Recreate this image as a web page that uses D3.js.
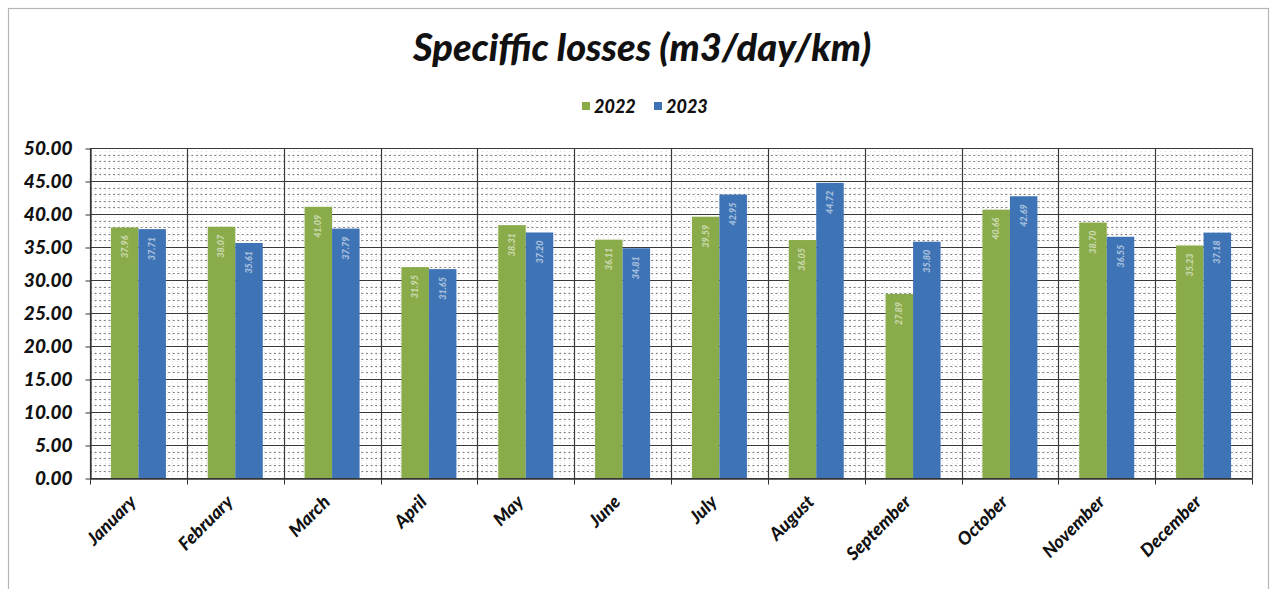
<!DOCTYPE html>
<html>
<head>
<meta charset="utf-8">
<script src="https://cdn.jsdelivr.net/npm/d3@7"></script>
<style>
  html, body { margin: 0; padding: 0; background: #fff; }
  svg { display: block; }
  text { font-family: Lato, "Open Sans", sans-serif; font-style: italic; font-weight: 900; }
</style>
</head>
<body>
<svg id="chart" width="1278" height="589"></svg>
<script>
// Monthly specific losses, m3/day/km
const months = ["January", "February", "March", "April", "May", "June",
                "July", "August", "September", "October", "November", "December"];
const seriesNames = ["2022", "2023"];
const values2022 = [37.96, 38.07, 41.09, 31.95, 38.31, 36.11, 39.59, 36.05, 27.89, 40.66, 38.70, 35.23];
const values2023 = [37.71, 35.61, 37.79, 31.65, 37.20, 34.81, 42.95, 44.72, 35.80, 42.69, 36.55, 37.18];
const yTicks = [0, 5, 10, 15, 20, 25, 30, 35, 40, 45, 50];
const colors = { "2022": "#8aab49", "2023": "#3e74b5" };

const svg = d3.select("#chart");
const m = { left: 90, right: 1252, top: 148, bottom: 478 };

// outer frame
svg.append("rect").attr("x", 8.5).attr("y", 8.5).attr("width", 1260).attr("height", 590)
  .attr("fill", "none").attr("stroke", "#b5b5b5").attr("stroke-width", 1.2);

const x = d3.scaleBand().domain(months).range([m.left, m.right]).paddingInner(0).paddingOuter(0);
const inner = d3.scaleBand().domain(seriesNames).range([0, x.bandwidth()]).paddingInner(0).paddingOuter(0.76);
const y = d3.scaleLinear().domain([0, 50]).range([m.bottom, m.top]);

const grid = svg.append("g");

// fine dotted grid inside the plot area
const minorY = d3.range(0, 50.01, 1).filter(v => v % 5 !== 0);
grid.selectAll("line.minh").data(minorY).join("line")
  .attr("x1", m.left).attr("x2", m.right)
  .attr("y1", d => Math.round(y(d)) + 0.5).attr("y2", d => Math.round(y(d)) + 0.5)
  .attr("stroke", "#5a5a5a").attr("stroke-width", 1.1)
  .attr("stroke-dasharray", "2,2.6").attr("opacity", 0.75);

const step = x.bandwidth() / 20;
const minorX = d3.range(0, 12 * 20).filter(i => i % 20 !== 0).map(i => m.left + i * step);
grid.selectAll("line.minv").data(minorX).join("line")
  .attr("x1", d => Math.round(d) + 0.5).attr("x2", d => Math.round(d) + 0.5)
  .attr("y1", m.top).attr("y2", m.bottom)
  .attr("stroke", "#9a9a9a").attr("stroke-width", 0.6)
  .attr("stroke-dasharray", "1,2").attr("opacity", 0.5);

// major grid
grid.selectAll("line.majh").data(yTicks).join("line")
  .attr("x1", m.left).attr("x2", m.right)
  .attr("y1", d => Math.round(y(d)) + 0.5).attr("y2", d => Math.round(y(d)) + 0.5)
  .attr("stroke", "#3a3a3a").attr("stroke-width", 1.2);

const boundaries = months.map(d => x(d)).concat([m.right]);
grid.selectAll("line.majv").data(boundaries).join("line")
  .attr("x1", d => Math.round(d) + 0.5).attr("x2", d => Math.round(d) + 0.5)
  .attr("y1", m.top).attr("y2", m.bottom)
  .attr("stroke", "#3a3a3a").attr("stroke-width", 1.2);

// bars
const rows = months.map((mo, i) => ({ month: mo, vals: [
  { s: "2022", v: values2022[i] }, { s: "2023", v: values2023[i] } ] }));

const groups = svg.append("g").selectAll("g").data(rows).join("g")
  .attr("transform", d => `translate(${x(d.month)},0)`);

groups.selectAll("rect").data(d => d.vals).join("rect")
  .attr("x", d => inner(d.s))
  .attr("width", inner.bandwidth())
  .attr("y", d => y(d.v))
  .attr("height", d => y(0) - y(d.v))
  .attr("fill", d => colors[d.s]);

// value labels inside the bars
groups.selectAll("text").data(d => d.vals).join("text")
  .attr("transform", d => `translate(${inner(d.s) + inner.bandwidth() / 2 + 3},${y(d.v) + 8}) rotate(-90)`)
  .attr("text-anchor", "end")
  .attr("font-size", 9)
  .attr("font-weight", "normal")
  .attr("fill", "#ffffff")
  .attr("opacity", 0.55)
  .text(d => d.v.toFixed(2));

// y axis
const yAxis = d3.axisLeft(y).tickValues(yTicks).tickFormat(d3.format(".2f")).tickSize(5).tickSizeOuter(0);
const gy = svg.append("g").attr("transform", `translate(${m.left + 0.5},0.5)`).call(yAxis);
gy.select(".domain").attr("stroke", "#333").attr("stroke-width", 1.3);
gy.selectAll(".tick line").attr("stroke", "#333");
gy.selectAll(".tick text").attr("x", -18).attr("font-size", 19).attr("fill", "#111")
  .style("font-family", "Lato, sans-serif");

// x axis
const xAxis = d3.axisBottom(x).tickSize(0).tickSizeOuter(0).tickFormat("");
const gx = svg.append("g").attr("transform", `translate(0,${m.bottom + 0.5})`).call(xAxis);
gx.select(".domain").attr("stroke", "#333").attr("stroke-width", 1.3);
gx.append("g").selectAll("line").data(boundaries).join("line")
  .attr("x1", d => Math.round(d) + 0.5).attr("x2", d => Math.round(d) + 0.5)
  .attr("y1", 0).attr("y2", 6).attr("stroke", "#333");

svg.append("g").selectAll("text").data(months).join("text")
  .attr("transform", d => `translate(${x(d) + x.bandwidth() / 2 - 1},${m.bottom + 25}) rotate(-45)`)
  .attr("text-anchor", "end")
  .attr("font-size", 18)
  .attr("fill", "#111")
  .text(d => d);

// title
svg.append("text").attr("x", 642).attr("y", 61).attr("text-anchor", "middle")
  .attr("font-size", 38).attr("fill", "#111")
  .text("Speciffic losses (m3/day/km)");

// legend
const legend = svg.append("g").attr("transform", "translate(582,102)");
seriesNames.forEach((s, i) => {
  const g = legend.append("g").attr("transform", `translate(${i * 72},0)`);
  g.append("rect").attr("width", 8).attr("height", 8).attr("y", 0).attr("fill", colors[s]);
  g.append("text").attr("x", 12).attr("y", 11).attr("font-size", 18).attr("fill", "#111").text(s);
});
</script>
</body>
</html>
